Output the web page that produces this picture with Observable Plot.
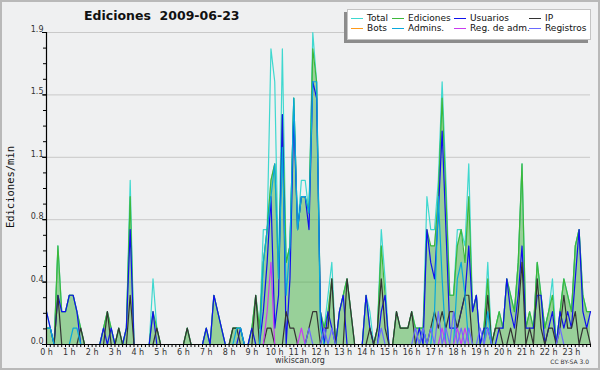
<!DOCTYPE html>
<html><head><meta charset="utf-8">
<script src="https://cdn.jsdelivr.net/npm/d3@7"></script>
<script src="https://cdn.jsdelivr.net/npm/@observablehq/plot@0.6"></script>
<style>
body{margin:0;background:#fff;}
#wrap{position:relative;width:600px;height:370px;background:#eff0f1;overflow:hidden;font-family:"DejaVu Sans",sans-serif;color:#222;}
#frame{position:absolute;left:0;top:0;width:596px;height:366px;border:2px solid #b9b9b9;pointer-events:none;}
#chart{position:absolute;left:0;top:0;}
#title{position:absolute;left:84px;top:8px;font-weight:bold;font-size:12.5px;white-space:pre;color:#111;}
#ylab{position:absolute;left:10px;top:187px;transform:translate(-50%,-50%) rotate(-90deg);font-family:"DejaVu Sans Mono",monospace;font-size:10.5px;white-space:nowrap;color:#111;}
#legend{position:absolute;left:347px;top:9px;width:242px;height:29px;background:#fff;border:1px solid #c4c4c4;box-shadow:-3px 3px 0 #8c8c8c;}
.li{position:absolute;font-size:9px;line-height:9px;white-space:nowrap;color:#111;}
.li span{position:absolute;left:0;top:4px;width:12px;height:1px;}
.li b{font-weight:normal;position:absolute;left:16px;top:0;}
#site{position:absolute;left:0;width:600px;text-align:center;top:356px;font-size:8px;color:#333;}
#cc{position:absolute;right:11px;top:358px;font-size:6px;color:#333;}
</style></head>
<body><div id="wrap"><div id="chart"></div>
<div id="title">Ediciones  2009-06-23</div>
<div id="ylab">Ediciones/min</div>
<div id="legend"></div>
<div id="site">wikiscan.org</div>
<div id="cc">CC BY-SA 3.0</div>
<div id="frame"></div></div>
<script>
// 10-minute slots, values in edits/min (one row of 6 per hour)
const total = [
 .2,.1,0,.6,.2,.2,  .3,.3,.2,.1,0,0,  0,0,0,.1,.2,.1,  0,.1,0,.1,1.0,0,
 0,0,0,0,.4,.1,  0,0,0,0,0,0,  0,.1,0,0,0,0,  .1,0,.3,.2,.1,0,
 0,.1,.1,.1,0,0,  .1,.3,.1,.7,.7,1.8,  1.6,.4,1.8,.5,.6,1.5,  .7,1.0,1.0,.8,1.9,1.6,
 .2,.1,.3,.5,0,.2,  .3,.4,.2,0,0,0,  .3,.2,0,.1,.7,.4,  0,0,.2,.1,.1,.1,
 .2,.1,.1,.1,.9,.7,  .7,1.0,1.6,1.0,.3,.3,  .7,.7,.6,1.1,.2,.3,  0,.1,.5,0,.1,.2,
 .1,.4,.3,.2,.5,1.1,  .1,.2,.1,.5,.3,.1,  .2,.4,0,.2,.4,.3,  .2,.6,.7,.3,.2,.2];
const ediciones = [
 .1,.1,0,.6,.2,.2,  .3,.3,.2,.1,0,0,  0,0,0,.1,.2,.1,  0,.1,0,.1,.9,0,
 0,0,0,0,.2,.1,  0,0,0,0,0,0,  0,.1,0,0,0,0,  .1,0,.3,.2,.1,0,
 0,.1,.1,.1,0,0,  .1,.3,.1,.5,.7,1.0,  1.1,.4,1.4,.5,.6,1.5,  .7,.9,.9,.8,1.8,1.6,
 .2,.1,.2,.4,0,.2,  .3,.4,.2,0,0,0,  .3,.1,0,.1,.6,.3,  0,0,.2,.1,.1,.1,
 .2,.1,.1,.1,.7,.6,  .6,.9,1.5,.9,.3,.3,  .6,.7,.5,.9,.2,.3,  0,.1,.4,0,.1,.2,
 .1,.4,.3,.2,.5,1.1,  .1,.2,.1,.5,.3,.1,  .2,.3,0,.2,.4,.3,  .2,.6,.7,.3,.2,.2];
const usuarios = [
 .2,.1,0,.3,.2,.2,  .3,.3,.2,0,0,0,  0,0,0,.1,0,.1,  0,0,0,.1,.7,0,
 0,0,0,0,.2,0,  0,0,0,0,0,0,  0,0,0,0,0,0,  .1,0,.3,.2,.1,0,
 0,0,0,.1,0,0,  .1,0,0,.2,.5,.9,  .1,.3,1.4,0,.4,1.4,  .7,.9,.9,.7,1.6,1.5,
 .2,0,.2,.1,0,.2,  .3,0,0,0,0,0,  .3,.1,0,0,.2,.3,  0,0,0,0,0,0,
 0,0,.1,0,.7,.5,  .4,.8,1.3,.7,.1,.1,  .1,.2,.3,.6,.2,.3,  0,.1,.1,0,0,.1,
 .1,.4,.2,.1,.3,.6,  .1,.1,.1,.3,.3,0,  .1,.2,0,.2,.1,.2,  .1,.4,.7,.2,.1,.2];
const ip = [
 0,0,0,.3,0,0,  0,0,0,.1,0,0,  0,0,0,0,.2,0,  0,.1,0,0,.3,0,
 0,0,0,0,0,.1,  0,0,0,0,0,0,  0,.1,0,0,0,0,  0,0,0,0,0,0,
 0,.1,.1,0,0,0,  0,.3,0,0,.1,.1,  0,0,0,.2,.1,.1,  0,0,0,.1,.2,.2,
 0,.1,.1,.4,0,0,  0,.4,.2,0,0,0,  0,.1,0,.1,.4,.1,  0,0,.2,.1,.1,.1,
 .2,0,0,.1,0,.1,  .2,.1,.2,.1,.2,.2,  .1,.2,.3,.3,0,0,  0,0,.3,0,.1,.1,
 0,0,.1,0,.2,.5,  0,.1,0,.4,.1,0,  .1,.1,0,.1,.3,.1,  .1,.2,0,.1,.1,0];
const bots = new Array(144).fill(0);
const admins = [
 .1,.1,0,0,0,0,  0,.1,.1,0,0,0,  0,0,0,0,0,0,  0,0,0,0,0,0,
 0,0,0,0,0,0,  0,0,0,0,0,0,  0,0,0,0,0,0,  0,0,0,0,0,0,
 0,0,.1,.1,0,0,  0,0,0,.5,.7,.9,  1.1,.4,1.2,.3,.6,1.5,  .7,.9,.9,.8,1.6,1.6,
 .1,0,0,0,0,0,  0,0,0,0,0,0,  0,0,0,0,0,0,  0,0,0,0,0,0,
 0,0,0,.1,0,0,  .2,.9,.4,0,0,0,  .4,.5,.3,0,0,0,  0,0,.2,0,0,0,
 0,0,0,0,0,0,  0,0,0,0,0,0,  0,0,0,0,0,0,  0,0,0,0,0,0];
const regAdm = [
 0,0,0,0,0,0,  0,0,0,0,0,0,  0,0,0,0,0,0,  0,0,0,0,0,0,
 0,0,0,0,0,0,  0,0,0,0,0,0,  0,0,0,0,0,0,  0,0,0,0,0,0,
 0,0,0,0,0,0,  0,0,0,0,.2,.5,  0,0,0,0,0,0,  0,.1,0,0,0,0,
 0,0,0,0,0,0,  0,0,0,0,0,0,  0,0,0,0,0,0,  0,0,0,0,0,0,
 0,0,0,0,0,0,  0,0,.1,0,0,0,  .1,0,.1,0,0,0,  0,0,0,0,0,0,
 0,0,0,0,0,0,  0,0,0,0,0,0,  0,0,0,0,0,0,  0,0,0,0,0,0];
const registros = [
 0,0,0,0,0,0,  0,0,0,0,0,0,  0,0,0,0,0,0,  0,0,0,0,0,0,
 0,0,0,0,0,0,  0,0,0,0,0,0,  0,0,0,0,0,0,  0,0,0,0,0,0,
 0,0,0,0,0,0,  0,0,0,0,0,0,  0,0,0,0,0,0,  0,0,0,.1,0,0,
 0,.1,0,.1,0,0,  0,0,0,0,0,0,  0,0,0,0,.1,0,  0,0,0,0,0,0,
 0,.1,0,.1,0,.1,  0,.2,0,.1,0,.2,  0,.1,0,.1,0,0,  .1,0,.1,0,0,0,
 0,0,0,0,0,0,  0,0,0,0,0,0,  0,0,0,.1,0,0,  0,0,0,0,0,0];

const seriesNames = ["Total","Ediciones","Usuarios","IP","Bots","Admins.","Reg. de adm.","Registros"];
const seriesColors = ["#3fd8cf","#3cb83c","#1010ee","#333333","#ff9a1a","#08a8dc","#c83cf0","#6a6aff"];
const seriesValues = [total, ediciones, usuarios, ip, bots, admins, regAdm, registros];

const hourLabels = d3.range(0, 24).map(h => `${h} h`);
const yTickValues = [0, 0.38, 0.76, 1.14, 1.52, 1.9];
const yTickLabels = ["0.0","0.4","0.8","1.1","1.5","1.9"];
const yMinorValues = d3.range(0, 21).map(k => k * 0.095);
const slots = d3.range(0, 144);

const lineMarks = [];
const order = [0, 1, 2, 3, 4, 5, 6, 7];
for (const s of order) {
  if (s === 1) {
    lineMarks.push(Plot.areaY(slots, {x: i => i, y: i => ediciones[i], fill: "#2fa82f", fillOpacity: 0.45, curve: "linear"}));
  }
  lineMarks.push(Plot.line(slots, {x: i => i, y: i => seriesValues[s][i], stroke: seriesColors[s], strokeWidth: 1.2, curve: "linear"}));
}

const chart = Plot.plot({
  width: 600, height: 370,
  marginLeft: 46, marginRight: 10, marginTop: 32, marginBottom: 26,
  x: {domain: [0, 143], axis: null},
  y: {domain: [0, 1.9], axis: null},
  style: {background: "transparent", fontFamily: "DejaVu Sans", color: "#333"},
  marks: [
    Plot.ruleY(yTickValues.slice(1), {stroke: "#c9c9c9", strokeWidth: 1}),
    ...lineMarks,
    Plot.ruleY(yMinorValues, {x1: 0, x2: 0, insetLeft: -3, stroke: "#000"}),
    Plot.ruleY(yTickValues, {x1: 0, x2: 0, insetLeft: -4, stroke: "#000"}),
    Plot.ruleX(slots, {x: i => i, y1: 0, y2: 0, insetBottom: -3, stroke: "#000"}),
    Plot.ruleX([0], {stroke: "#000", strokeWidth: 1.2}),
    Plot.ruleY([0], {stroke: "#000", strokeWidth: 1.2}),
    Plot.text(yTickValues, {x: 0, y: d => d, text: (d, i) => yTickLabels[i], textAnchor: "end", dx: -3, dy: -3, fontSize: 8, fill: "#333"}),
    Plot.text(hourLabels, {x: (d, i) => i * 6, y: 0, text: d => d, dy: 8, fontSize: 8, fill: "#333"})
  ]
});
document.getElementById("chart").appendChild(chart);

// legend
const legend = document.getElementById("legend");
const colX = [3, 44, 106, 181];
seriesNames.forEach((name, k) => {
  const col = k % 4, row = Math.floor(k / 4);
  const el = document.createElement("div");
  el.className = "li";
  el.style.left = colX[col] + "px";
  el.style.top = (4 + row * 10) + "px";
  el.innerHTML = `<span style="background:${seriesColors[k]}"></span><b>${name}</b>`;
  legend.appendChild(el);
});
</script></body></html>
